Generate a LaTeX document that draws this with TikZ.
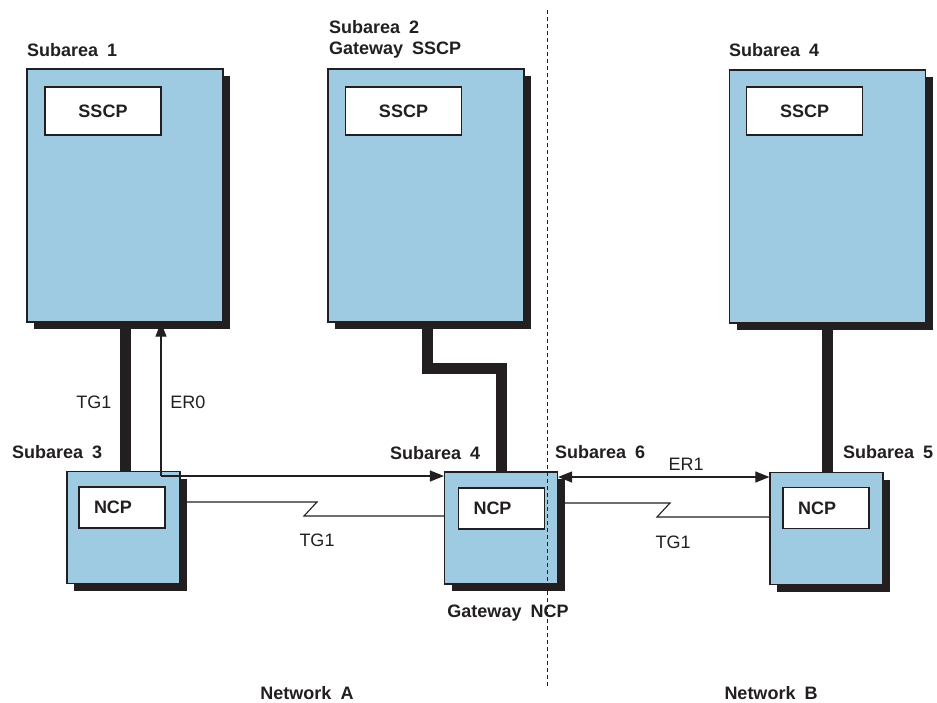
\documentclass[tikz,border=0pt]{standalone}
\usepackage{fontspec}
\setmainfont{Liberation Sans}[WordSpace=1.8]
\usetikzlibrary{shadows,arrows.meta}
\definecolor{boxblue}{RGB}{158,203,226}
\definecolor{ink}{RGB}{35,31,32}
\begin{document}
\begin{tikzpicture}[x=1pt,y=-1pt,
  font=\fontsize{18}{21}\selectfont, text=ink,
  shadowed/.style={drop shadow={shadow xshift=7pt, shadow yshift=-7pt, fill=ink, opacity=1}},
  bigbox/.style={draw=ink, line width=1.2pt, fill=boxblue, minimum width=196pt, minimum height=253pt, inner sep=0pt, shadowed},
  ncpbox/.style={draw=ink, line width=1.2pt, fill=boxblue, minimum width=113pt, minimum height=112pt, inner sep=0pt, shadowed},
  sscpbox/.style={draw=ink, line width=1.2pt, fill=white, minimum width=116pt, minimum height=48pt, inner sep=0pt, font=\fontsize{18}{21}\selectfont\bfseries},
  ncpin/.style={draw=ink, line width=1.2pt, fill=white, text width=56pt, align=left, inner xsep=15pt, inner ysep=0pt, minimum height=41pt, font=\fontsize{18}{21}\selectfont\bfseries},
  lbl/.style={inner sep=0pt, font=\fontsize{18}{21}\selectfont\bfseries},
  reg/.style={inner sep=0pt, font=\fontsize{18}{21}\selectfont},
  trunk/.style={draw=ink, line width=11pt, line join=miter},
  thin/.style={draw=ink, line width=1.1pt},
  arr/.style={thin, -{Triangle[length=14pt,width=11pt]}},
  darr/.style={thin, {Triangle[length=14pt,width=11pt]}-{Triangle[length=14pt,width=11pt]}},
  divider/.style={draw=ink, line width=1pt, dash pattern=on 4pt off 3pt}
]
\useasboundingbox (0,0) rectangle (937,702);

% host boxes
\node[bigbox] (sa1) at (125,195.5) {};
\node[bigbox] (sa2) at (426,195.5) {};
\node[bigbox] (sa4h) at (827.5,196.5) {};
\node[sscpbox] (sscp1) at (103,111) {SSCP};
\node[sscpbox] (sscp2) at (403.5,111) {SSCP};
\node[sscpbox] (sscp4) at (804.5,111) {SSCP};

% NCP boxes
\node[ncpbox] (sa3) at (123.5,527.5) {};
\node[ncpbox] (sa4n) at (501,528) {};
\node[ncpbox] (sa5) at (826.5,528.5) {};
\node[ncpin] (ncp3) at (122,507.5) {NCP};
\node[ncpin] (ncp4) at (501.5,508.5) {NCP};
\node[ncpin] (ncp5) at (826,508) {NCP};

% channel connections
\draw[trunk] (sa1.south) -- (sa1.south |- sa3.north);
\draw[trunk] ([xshift=1pt]sa2.south) -- ++(0,46) -| (sa4n.north);
\draw[trunk] (sa4h.south) -- (sa4h.south |- sa5.north);

% ER0
\coordinate (er0) at (161,476);
\draw[arr] (er0) -- (er0 |- sa1.south);
\draw[arr] (er0) -- (er0 -| sa4n.west);

% TG1 links
\coordinate (tga) at (187,502);
\draw[thin] (tga) -- (317,502) -- (304,516) -- (sa4n.west |- 0,516);
\coordinate (tgb) at (564,503);
\draw[thin] (tgb) -- (670,503) -- (657,517) -- (sa5.west |- 0,517);

% ER1
\draw[darr] (sa4n.east |- 0,477) -- (sa5.west |- 0,477);

% network divider
\coordinate (dtop) at (547,10);
\coordinate (dbot) at (547,688);
\draw[divider] (dtop) -- (dbot);

% labels
\node[lbl, anchor=west] (l1) at (27,50) {Subarea 1};
\node[lbl, anchor=west] (l2) at (329,27) {Subarea 2};
\node[lbl, anchor=west] (l2b) at (329,50) {Gateway SSCP};
\node[lbl, anchor=west] (l4h) at (729,50) {Subarea 4};
\node[lbl, anchor=west] (l3) at (12,452) {Subarea 3};
\node[lbl, anchor=west] (l4n) at (390,453) {Subarea 4};
\node[lbl, anchor=west] (l6) at (555,452) {Subarea 6};
\node[lbl, anchor=west] (l5) at (843,452) {Subarea 5};
\node[reg] (tg1a) at (94,402) {TG1};
\node[reg] (er0l) at (188,402) {ER0};
\node[reg] (tg1b) at (317,540) {TG1};
\node[reg] (tg1c) at (673,542) {TG1};
\node[reg] (er1l) at (686,464) {ER1};
\node[lbl] (gw) at (508,613) {Gateway NCP};
\node[lbl] (na) at (307,693) {Network A};
\node[lbl] (nb) at (771,693) {Network B};
\end{tikzpicture}
\end{document}
